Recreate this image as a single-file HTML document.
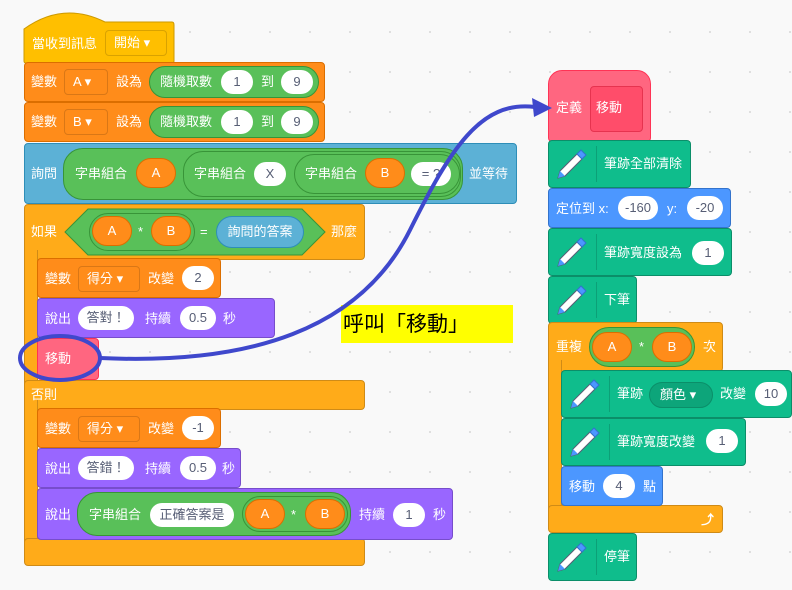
<!DOCTYPE html><html><head><meta charset="utf-8"><style>
body{margin:0;width:792px;height:590px;overflow:hidden;background:#f9f9f9;background-image:radial-gradient(#ddd 1px,transparent 1.2px);background-size:40px 40px;background-position:10px 12px;font-family:"Liberation Sans","Noto Sans CJK TC",sans-serif;font-size:13px;color:#fff;position:relative}
.b{position:absolute;box-sizing:border-box;border-radius:4px}
.t{position:absolute;white-space:nowrap;line-height:16px}
.o{position:absolute;background:#fff;color:#575e75;border-radius:16px;text-align:center;line-height:24px;height:24px;white-space:nowrap}
.r{position:absolute;border-radius:20px;box-sizing:border-box}
.y{background:#ffbf00;border:1px solid #cc9900}
.or{background:#ff8c1a;border:1px solid #db6e00}
.c{background:#ffab19;border:1px solid #cf8b17}
.bl{background:#5cb1d6;border:1px solid #2e8eb8}
.g{background:#59c059;border:1px solid #389438}
.p{background:#9966ff;border:1px solid #774dcb}
.pk{background:#ff6680;border:1px solid #ff3355}
.pe{background:#0fbd8c;border:1px solid #0b8e69}
.mo{background:#4c97ff;border:1px solid #3373cc}
.dd{position:absolute;border:1px solid rgba(0,0,0,.15);border-radius:4px;height:26px;line-height:24px;box-sizing:border-box;padding-left:8px;white-space:nowrap}
.vo{position:absolute;background:#ff8c1a;border:1px solid #db6e00;border-radius:16px;height:30px;line-height:28px;text-align:center;box-sizing:border-box}
</style></head><body>
<svg style="position:absolute;left:23px;top:7px" width="154" height="58"><path d="M1 22 Q 40 -6 82 15 L 149 15 Q 151 15 151 18 L 151 54 Q 151 56 149 56 L 3 56 Q 1 56 1 54 Z" fill="#ffbf00" stroke="#cc9900"/></svg>
<div class="t" style="left:32px;top:36px">當收到訊息</div>
<div class="dd" style="left:105px;top:30px;width:62px;background:#ffbf00">開始 ▾</div>

<div class="b or" style="left:24px;top:62px;width:301px;height:40px"></div>
<div class="t" style="left:31px;top:74px">變數</div>
<div class="dd" style="left:64px;top:69px;width:44px">A ▾</div>
<div class="t" style="left:116px;top:74px">設為</div>
<div class="r g" style="left:149px;top:66px;width:170px;height:32px"></div>
<div class="t" style="left:160px;top:74px">隨機取數</div>
<div class="o" style="left:221px;top:70px;width:32px">1</div>
<div class="t" style="left:261px;top:74px">到</div>
<div class="o" style="left:281px;top:70px;width:32px">9</div>

<div class="b or" style="left:24px;top:102px;width:301px;height:40px"></div>
<div class="t" style="left:31px;top:114px">變數</div>
<div class="dd" style="left:64px;top:109px;width:44px">B ▾</div>
<div class="t" style="left:116px;top:114px">設為</div>
<div class="r g" style="left:149px;top:106px;width:170px;height:32px"></div>
<div class="t" style="left:160px;top:114px">隨機取數</div>
<div class="o" style="left:221px;top:110px;width:32px">1</div>
<div class="t" style="left:261px;top:114px">到</div>
<div class="o" style="left:281px;top:110px;width:32px">9</div>

<div class="b bl" style="left:24px;top:143px;width:493px;height:61px"></div>
<div class="t" style="left:31px;top:166px">詢問</div>
<div class="r g" style="left:63px;top:148px;width:400px;height:52px"></div>
<div class="t" style="left:75px;top:166px">字串組合</div>
<div class="vo" style="left:136px;top:158px;width:40px">A</div>
<div class="r g" style="left:183px;top:151px;width:278px;height:46px"></div>
<div class="t" style="left:194px;top:166px">字串組合</div>
<div class="o" style="left:254px;top:162px;width:32px">X</div>
<div class="r g" style="left:294px;top:154px;width:166px;height:40px"></div>
<div class="t" style="left:305px;top:166px">字串組合</div>
<div class="vo" style="left:365px;top:158px;width:40px">B</div>
<div class="o" style="left:411px;top:162px;width:40px">= ?</div>
<div class="t" style="left:469px;top:166px">並等待</div>

<div class="b c" style="left:24px;top:204px;width:341px;height:56px"></div>
<div class="b c" style="left:24px;top:250px;width:14px;height:140px;border-radius:0;border-top:none;border-bottom:none"></div>
<div class="b c" style="left:24px;top:380px;width:341px;height:30px"></div>
<div class="b c" style="left:24px;top:400px;width:14px;height:150px;border-radius:0;border-top:none;border-bottom:none"></div>
<div class="b c" style="left:24px;top:538px;width:341px;height:28px"></div>
<div class="t" style="left:31px;top:224px">如果</div>
<svg style="position:absolute;left:64px;top:208px" width="262" height="48"><polygon points="24,1 238,1 261,24 238,47 24,47 1,24" fill="#59c059" stroke="#389438"/></svg>
<div class="r g" style="left:89px;top:213px;width:106px;height:38px;border-color:#389438"></div>
<div class="vo" style="left:92px;top:216px;width:40px">A</div>
<div class="t" style="left:138px;top:224px">*</div>
<div class="vo" style="left:151px;top:216px;width:40px">B</div>
<div class="t" style="left:200px;top:224px">=</div>
<div class="r bl" style="left:216px;top:216px;width:88px;height:32px;line-height:30px;text-align:center">詢問的答案</div>
<div class="t" style="left:331px;top:224px">那麼</div>

<div class="b or" style="left:37px;top:258px;width:184px;height:40px"></div>
<div class="t" style="left:45px;top:271px">變數</div>
<div class="dd" style="left:78px;top:266px;width:62px">得分 ▾</div>
<div class="t" style="left:148px;top:271px">改變</div>
<div class="o" style="left:182px;top:266px;width:32px">2</div>

<div class="b p" style="left:37px;top:298px;width:238px;height:40px"></div>
<div class="t" style="left:45px;top:311px">說出</div>
<div class="o" style="left:78px;top:306px;width:56px">答對！</div>
<div class="t" style="left:145px;top:311px">持續</div>
<div class="o" style="left:180px;top:306px;width:36px">0.5</div>
<div class="t" style="left:223px;top:311px">秒</div>

<div class="b pk" style="left:37px;top:338px;width:62px;height:42px"></div>
<div class="t" style="left:45px;top:351px">移動</div>

<div class="t" style="left:31px;top:387px">否則</div>
<div class="b or" style="left:37px;top:408px;width:184px;height:40px"></div>
<div class="t" style="left:45px;top:421px">變數</div>
<div class="dd" style="left:78px;top:416px;width:62px">得分 ▾</div>
<div class="t" style="left:148px;top:421px">改變</div>
<div class="o" style="left:182px;top:416px;width:32px">-1</div>

<div class="b p" style="left:37px;top:448px;width:204px;height:40px"></div>
<div class="t" style="left:45px;top:461px">說出</div>
<div class="o" style="left:78px;top:456px;width:56px">答錯！</div>
<div class="t" style="left:145px;top:461px">持續</div>
<div class="o" style="left:180px;top:456px;width:36px">0.5</div>
<div class="t" style="left:222px;top:461px">秒</div>

<div class="b p" style="left:37px;top:488px;width:416px;height:52px"></div>
<div class="t" style="left:45px;top:507px">說出</div>
<div class="r g" style="left:77px;top:492px;width:274px;height:44px"></div>
<div class="t" style="left:89px;top:507px">字串組合</div>
<div class="o" style="left:150px;top:503px;width:84px">正確答案是</div>
<div class="r g" style="left:242px;top:496px;width:106px;height:36px"></div>
<div class="vo" style="left:245px;top:499px;width:40px">A</div>
<div class="t" style="left:291px;top:507px">*</div>
<div class="vo" style="left:305px;top:499px;width:40px">B</div>
<div class="t" style="left:359px;top:507px">持續</div>
<div class="o" style="left:393px;top:503px;width:32px">1</div>
<div class="t" style="left:433px;top:507px">秒</div>

<div class="b pk" style="left:548px;top:70px;width:103px;height:72px;border-radius:14px 14px 4px 4px"></div>
<div class="b" style="left:590px;top:86px;width:53px;height:46px;background:#ff4d6a;border:1px solid #e6334f"></div>
<div class="t" style="left:556px;top:100px">定義</div>
<div class="t" style="left:596px;top:100px">移動</div>

<svg width="0" height="0" style="position:absolute"><defs><g id="pen"><path d="M24 8 L29 13 L12 30 L5 32 L7 25 Z" fill="#fff" stroke="#575e75" stroke-width="1"/><path d="M24 8 L28 4 L33 9 L29 13 Z" fill="#4c97ff" stroke="#3373cc"/><path d="M7 25 L5 32 L12 30Z" fill="#4c97ff"/></g></defs></svg>

<div class="b pe" style="left:548px;top:140px;width:143px;height:48px"></div>
<svg style="position:absolute;left:553px;top:146px" width="36" height="36"><use href="#pen"/></svg>
<div style="position:absolute;left:596px;top:146px;width:1px;height:36px;background:rgba(0,0,0,.15)"></div>
<div class="t" style="left:604px;top:156px">筆跡全部清除</div>

<div class="b mo" style="left:548px;top:188px;width:183px;height:40px"></div>
<div class="t" style="left:556px;top:201px">定位到 x:</div>
<div class="o" style="left:618px;top:196px;width:40px">-160</div>
<div class="t" style="left:667px;top:201px">y:</div>
<div class="o" style="left:687px;top:196px;width:36px">-20</div>

<div class="b pe" style="left:548px;top:228px;width:184px;height:48px"></div>
<svg style="position:absolute;left:553px;top:234px" width="36" height="36"><use href="#pen"/></svg>
<div style="position:absolute;left:596px;top:234px;width:1px;height:36px;background:rgba(0,0,0,.15)"></div>
<div class="t" style="left:604px;top:245px">筆跡寬度設為</div>
<div class="o" style="left:692px;top:241px;width:32px">1</div>

<div class="b pe" style="left:548px;top:276px;width:89px;height:48px"></div>
<svg style="position:absolute;left:553px;top:282px" width="36" height="36"><use href="#pen"/></svg>
<div style="position:absolute;left:596px;top:282px;width:1px;height:36px;background:rgba(0,0,0,.15)"></div>
<div class="t" style="left:604px;top:292px">下筆</div>

<div class="b c" style="left:548px;top:322px;width:175px;height:50px"></div>
<div class="b c" style="left:548px;top:360px;width:14px;height:150px;border-radius:0;border-top:none;border-bottom:none"></div>
<div class="b c" style="left:548px;top:505px;width:175px;height:28px"></div>
<div class="t" style="left:556px;top:339px">重複</div>
<div class="r g" style="left:589px;top:327px;width:106px;height:40px"></div>
<div class="vo" style="left:592px;top:332px;width:40px">A</div>
<div class="t" style="left:639px;top:339px">*</div>
<div class="vo" style="left:652px;top:332px;width:40px">B</div>
<div class="t" style="left:703px;top:339px">次</div>
<div class="t" style="left:701px;top:512px;color:#fff;font-size:13px;font-weight:bold">⤴</div>

<div class="b pe" style="left:561px;top:370px;width:231px;height:48px"></div>
<svg style="position:absolute;left:566px;top:376px" width="36" height="36"><use href="#pen"/></svg>
<div style="position:absolute;left:609px;top:376px;width:1px;height:36px;background:rgba(0,0,0,.15)"></div>
<div class="t" style="left:617px;top:386px">筆跡</div>
<div class="r" style="left:649px;top:382px;width:64px;height:26px;background:#0da57a;border:1px solid #0b8e69;line-height:24px;padding-left:10px;white-space:nowrap">顏色 ▾</div>
<div class="t" style="left:720px;top:386px">改變</div>
<div class="o" style="left:755px;top:382px;width:32px">10</div>

<div class="b pe" style="left:561px;top:418px;width:185px;height:48px"></div>
<svg style="position:absolute;left:566px;top:424px" width="36" height="36"><use href="#pen"/></svg>
<div style="position:absolute;left:609px;top:424px;width:1px;height:36px;background:rgba(0,0,0,.15)"></div>
<div class="t" style="left:617px;top:434px">筆跡寬度改變</div>
<div class="o" style="left:706px;top:429px;width:32px">1</div>

<div class="b mo" style="left:561px;top:466px;width:102px;height:40px"></div>
<div class="t" style="left:569px;top:479px">移動</div>
<div class="o" style="left:603px;top:474px;width:32px">4</div>
<div class="t" style="left:643px;top:479px">點</div>

<div class="b pe" style="left:548px;top:533px;width:89px;height:48px"></div>
<svg style="position:absolute;left:553px;top:539px" width="36" height="36"><use href="#pen"/></svg>
<div style="position:absolute;left:596px;top:539px;width:1px;height:36px;background:rgba(0,0,0,.15)"></div>
<div class="t" style="left:604px;top:549px">停筆</div>

<div style="position:absolute;left:341px;top:305px;width:172px;height:38px;background:#ffff00"></div>
<div class="t" style="left:343px;top:313px;color:#000;font-size:21px;line-height:24px">呼叫「移動」</div>
<svg style="position:absolute;left:0;top:0" width="792" height="590">
<ellipse cx="60" cy="358" rx="40" ry="22" fill="none" stroke="#3f48cc" stroke-width="4"/>
<path d="M100 358 C 250 365, 360 330, 410 230 C 450 150, 480 100, 535 107" fill="none" stroke="#3f48cc" stroke-width="4"/>
<polygon points="552,108 532,98 534,117" fill="#3f48cc"/>
</svg>
</body></html>
